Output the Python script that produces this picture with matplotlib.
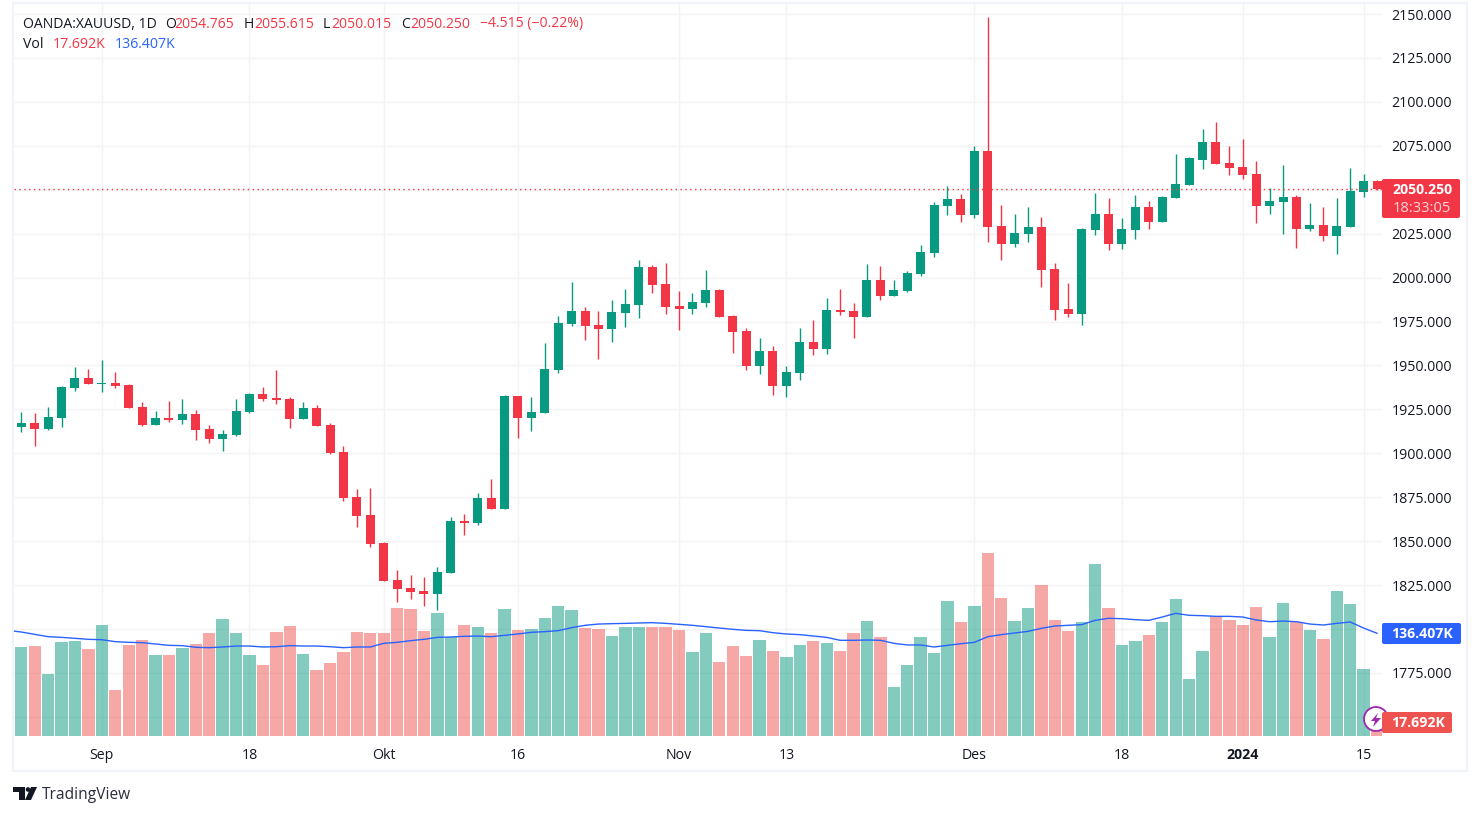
import matplotlib
matplotlib.use("Agg")
import matplotlib.pyplot as plt
from matplotlib.patches import Circle, FancyBboxPatch, Polygon, Rectangle

plt.rcParams["font.family"] = ["Open Sans", "DejaVu Sans"]

# daily XAUUSD candles
opens = [
    1915.0, 1917.2, 1913.8, 1920.1, 1937.1, 1942.8, 1939.4, 1940.0, 1938.8, 1926.3,
    1916.1, 1920.1, 1918.9, 1922.3, 1913.8, 1908.1, 1910.4, 1923.5, 1933.7, 1931.4,
    1930.9, 1919.5, 1925.8, 1916.1, 1900.8, 1875.2, 1865.0, 1849.1, 1828.0, 1823.5,
    1821.8, 1820.1, 1832.0, 1861.5, 1860.4, 1874.6, 1868.4, 1932.6, 1920.1, 1922.9,
    1947.3, 1973.5, 1980.9, 1972.9, 1970.6, 1979.7, 1984.3, 2005.9, 1996.2, 1983.7,
    1982.0, 1985.4, 1992.8, 1978.0, 1969.5, 1949.6, 1958.1, 1938.3, 1945.6, 1963.3,
    1959.3, 1981.4, 1980.9, 1977.5, 1998.5, 1989.4, 1992.2, 2001.9, 2013.8, 2040.5,
    2044.5, 2035.4, 2071.8, 2029.2, 2018.9, 2024.6, 2028.6, 2004.7, 1982.0, 1979.2,
    2026.9, 2036.0, 2018.9, 2026.9, 2040.0, 2031.4, 2045.1, 2052.5, 2067.2, 2076.9,
    2065.0, 2062.7, 2058.7, 2040.5, 2042.8, 2045.6, 2027.5, 2029.7, 2023.5, 2028.6,
    2048.5, 2054.765,
]
highs = [
    1923.5, 1922.9, 1926.3, 1938.3, 1949.1, 1947.9, 1953.0, 1946.2, 1939.4, 1929.2,
    1924.1, 1929.7, 1930.9, 1924.6, 1916.1, 1913.3, 1930.9, 1934.3, 1937.7, 1947.3,
    1932.0, 1929.2, 1927.5, 1917.2, 1904.2, 1879.7, 1880.2, 1849.6, 1833.7, 1830.9,
    1829.7, 1835.4, 1863.8, 1865.5, 1877.5, 1885.4, 1933.1, 1932.6, 1932.0, 1962.7,
    1978.0, 1997.3, 1983.1, 1980.9, 1987.1, 1993.4, 2009.8, 2007.0, 2008.1, 1992.2,
    1991.1, 2004.2, 1993.4, 1978.6, 1971.2, 1965.5, 1961.0, 1949.6, 1971.2, 1975.8,
    1988.3, 1993.4, 1985.4, 2007.6, 2006.4, 1998.5, 2003.6, 2018.4, 2042.8, 2051.9,
    2047.3, 2074.6, 2148.5, 2041.1, 2036.0, 2040.0, 2034.3, 2008.1, 1996.8, 2028.0,
    2047.9, 2045.1, 2033.7, 2046.8, 2043.4, 2046.2, 2070.6, 2068.9, 2084.3, 2088.3,
    2074.6, 2078.6, 2066.1, 2050.8, 2063.8, 2046.8, 2042.2, 2040.0, 2045.1, 2062.1,
    2058.7, 2055.615,
]
lows = [
    1912.3, 1904.2, 1913.3, 1915.0, 1935.4, 1939.4, 1934.8, 1937.1, 1925.8, 1915.5,
    1916.1, 1917.8, 1916.7, 1907.6, 1905.9, 1901.3, 1909.8, 1922.9, 1929.7, 1928.0,
    1914.4, 1919.5, 1915.5, 1899.6, 1872.9, 1858.1, 1846.8, 1827.5, 1815.5, 1817.2,
    1813.3, 1811.0, 1832.0, 1853.6, 1859.3, 1868.4, 1868.4, 1908.7, 1912.7, 1922.9,
    1945.6, 1972.3, 1964.4, 1953.6, 1963.3, 1971.8, 1976.9, 1991.1, 1979.2, 1970.1,
    1979.2, 1983.1, 1977.5, 1957.0, 1947.3, 1945.1, 1933.1, 1932.0, 1941.7, 1955.9,
    1956.4, 1978.6, 1965.5, 1977.5, 1987.1, 1989.4, 1991.7, 2000.8, 2011.6, 2035.4,
    2031.4, 2033.7, 2020.1, 2009.8, 2017.2, 2020.1, 1994.5, 1975.8, 1977.5, 1972.9,
    2024.1, 2015.5, 2016.1, 2021.8, 2027.5, 2031.4, 2045.1, 2052.5, 2061.6, 2064.4,
    2058.1, 2055.9, 2030.9, 2036.0, 2024.6, 2016.7, 2026.3, 2020.6, 2013.3, 2028.6,
    2045.6, 2050.015,
]
closes = [
    1917.2, 1913.8, 1920.6, 1937.7, 1942.8, 1939.4, 1940.0, 1938.3, 1925.8, 1916.1,
    1920.1, 1918.9, 1922.3, 1913.3, 1908.1, 1911.0, 1924.1, 1933.7, 1930.9, 1930.3,
    1919.5, 1925.8, 1915.5, 1900.2, 1874.6, 1864.4, 1848.5, 1827.5, 1822.9, 1821.2,
    1820.1, 1832.6, 1861.5, 1860.4, 1874.6, 1868.4, 1932.6, 1920.1, 1923.5, 1947.9,
    1974.1, 1980.9, 1972.3, 1970.6, 1980.3, 1984.8, 2005.9, 1995.6, 1983.1, 1982.0,
    1986.0, 1992.8, 1977.5, 1968.9, 1949.6, 1958.1, 1938.3, 1946.2, 1963.3, 1959.3,
    1981.4, 1980.3, 1977.5, 1998.5, 1989.4, 1992.8, 2002.5, 2014.4, 2041.1, 2044.5,
    2035.4, 2071.8, 2028.6, 2018.9, 2025.2, 2028.6, 2004.2, 1981.4, 1979.2, 2027.5,
    2036.0, 2018.9, 2027.5, 2040.0, 2031.4, 2045.6, 2053.0, 2067.8, 2076.9, 2064.4,
    2062.1, 2058.1, 2040.5, 2043.4, 2045.6, 2027.5, 2029.7, 2023.5, 2029.2, 2049.1,
    2054.7, 2050.25,
]

# volume in thousands
volumes = [
    118.2, 119.5, 82.3, 124.8, 126.2, 115.5, 147.4, 61.1, 120.9, 127.5,
    107.6, 107.6, 116.9, 122.2, 136.8, 155.4, 136.8, 107.6, 94.3, 138.1,
    146.1, 108.9, 87.7, 97.0, 111.6, 138.1, 136.8, 136.8, 170.0, 168.7,
    139.5, 163.4, 131.5, 147.4, 144.8, 136.8, 168.7, 140.8, 142.1, 156.7,
    172.7, 167.3, 143.4, 142.1, 132.8, 144.8, 144.8, 144.8, 144.8, 140.8,
    111.6, 136.8, 98.3, 119.5, 106.2, 127.5, 112.9, 104.9, 120.9, 126.2,
    123.5, 112.9, 136.8, 152.7, 131.5, 65.1, 94.3, 131.5, 110.2, 179.3,
    151.4, 172.7, 243.0, 183.3, 152.7, 170.0, 200.5, 154.1, 139.5, 151.4,
    228.4, 170.0, 120.9, 126.2, 134.1, 151.4, 182.0, 75.7, 112.9, 159.4,
    154.1, 147.4, 171.3, 131.5, 176.6, 151.4, 140.8, 128.8, 192.6, 175.3,
    89.0, 17.692,
]

# volume moving average, starts one bar left of the first candle
vol_ma = [
    140.3, 138.1, 135.0, 131.9, 131.0, 129.7, 128.4, 127.9, 125.3, 124.4,
    124.0, 122.2, 120.4, 120.0, 117.8, 117.3, 118.2, 119.5, 119.5, 118.2,
    118.6, 120.0, 119.5, 119.5, 118.6, 117.3, 118.2, 118.2, 123.1, 124.4,
    126.6, 128.4, 131.0, 131.5, 132.4, 132.8, 131.9, 133.7, 135.5, 137.7,
    138.6, 139.9, 143.9, 147.0, 148.7, 149.2, 149.6, 150.1, 150.5, 149.6,
    148.3, 147.0, 145.2, 143.4, 141.7, 140.3, 139.9, 137.2, 135.5, 134.6,
    132.8, 131.0, 127.1, 127.1, 127.5, 127.1, 123.1, 120.9, 120.9, 118.2,
    120.4, 122.6, 124.4, 131.9, 134.6, 136.8, 139.0, 143.0, 146.1, 147.0,
    147.9, 153.6, 156.3, 155.8, 154.5, 153.6, 158.0, 162.9, 160.3, 159.8,
    158.9, 158.9, 158.0, 154.1, 151.8, 152.7, 151.8, 148.7, 147.4, 149.6,
    151.4, 143.4, 136.407,
]

price_ticks = [1750, 1775, 1800, 1825, 1850, 1875, 1900, 1925, 1950, 1975, 2000,
               2025, 2050, 2075, 2100, 2125, 2150]
# these two sit under the value tags, so only their grid lines show
hidden_prices = [1800, 2050]
date_ticks = [6, 17, 27, 37, 49, 57, 71, 82, 91, 100]
date_labels = ["Sep", "18", "Okt", "16", "Nov", "13", "Des", "18", "2024", "15"]

GREEN = "#089981"
RED = "#f23645"
VOL_RED = "#ef5350"
BLUE = "#2962ff"
FRAME = "#f0f3fa"
GRID = "#f3f3f3"
DARK = "#131722"
FS = 10.2

W, H = 1480, 815
fig = plt.figure(figsize=(W / 100, H / 100), dpi=100, facecolor="white")
pane = [14 / W, 1 - 736 / H, 1368 / W, 732 / H]
xlim = (-0.544, 101.37)
ylim = (1739.1, 2155.7)

ax_grid = fig.add_axes(pane, zorder=0)
ax_vol = fig.add_axes(pane, zorder=1)
ax = fig.add_axes(pane, zorder=2)
over = fig.add_axes([0, 0, 1, 1], zorder=3)

# grid and the two axes live on the bottom layer
ax_grid.set_xlim(xlim)
ax_grid.set_ylim(ylim)
ax_grid.yaxis.tick_right()
ax_grid.set_yticks(price_ticks)
ax_grid.set_yticklabels(["" if p in hidden_prices else f"{p:.3f}" for p in price_ticks],
                        fontsize=FS, color=DARK)
ax_grid.set_xticks(date_ticks)
ax_grid.set_xticklabels(date_labels, fontsize=FS, color=DARK)
ax_grid.get_xticklabels()[8].set_fontweight("bold")
ax_grid.tick_params(length=0)
ax_grid.tick_params(axis="y", pad=7.0)
ax_grid.tick_params(axis="x", pad=8.5)
ax_grid.grid(True, color=GRID, linewidth=1)
ax_grid.set_axisbelow(True)
for s in ax_grid.spines.values():
    s.set_visible(False)

days = list(range(len(closes)))
up = [c >= o for o, c in zip(opens, closes)]

ax_vol.patch.set_visible(False)
ax_vol.axis("off")
ax_vol.set_xlim(xlim)
ax_vol.set_ylim(0, 972.2)
ax_vol.bar(days, volumes, width=0.92, linewidth=0, alpha=0.5,
           color=[GREEN if u else VOL_RED for u in up])

ax.patch.set_visible(False)
ax.axis("off")
ax.set_xlim(xlim)
ax.set_ylim(ylim)
colors = [GREEN if u else RED for u in up]
ax.vlines(days, lows, highs, colors=colors, linewidth=1.0)
ax.bar(days, [abs(c - o) for o, c in zip(opens, closes)],
       bottom=[min(o, c) for o, c in zip(opens, closes)],
       width=0.67, color=colors, linewidth=0)
ax.axhline(closes[-1], color=RED, linewidth=1, linestyle=(0, (1, 2.5)))

ax_ma = ax.twinx()
ax_ma.axis("off")
ax_ma.set_ylim(0, 972.2)
ax_ma.plot(range(-1, len(vol_ma) - 1), vol_ma, color=BLUE, linewidth=1.0)

# frame, tags and header in pixel coordinates
over.set_xlim(0, W)
over.set_ylim(H, 0)
over.axis("off")
over.patch.set_visible(False)
over.add_patch(Rectangle((13, 3), 1454, 768, fill=False, edgecolor=FRAME, linewidth=1.5))


def tag(x0, y0, x1, y1, color):
    over.add_patch(FancyBboxPatch((x0, y0), x1 - x0, y1 - y0, boxstyle="round,pad=0,rounding_size=2",
                                  facecolor=color, edgecolor="none"))


# bolt badge sits behind the volume tag
over.add_patch(Circle((1376, 719), 12, facecolor="white", edgecolor="#9c27b0", linewidth=1.3))
over.add_patch(Polygon([(1378, 713), (1371, 721), (1375, 721), (1373, 727), (1381, 718), (1376, 718)],
                       facecolor="#9c27b0", edgecolor="none"))

tag(1382, 179, 1460, 218, RED)
over.text(1422, 190, "2050.250", color="white", fontsize=FS, fontweight="bold", ha="center", va="center")
over.text(1421.5, 208, "18:33:05", color="#fcd7da", fontsize=FS + 0.3, ha="center", va="center")
tag(1382, 623, 1461, 644, BLUE)
over.text(1422, 634, "136.407K", color="white", fontsize=FS, fontweight="bold", ha="center", va="center")
tag(1382, 712, 1452, 733, VOL_RED)
over.text(1418, 723, "17.692K", color="white", fontsize=FS, fontweight="bold", ha="center", va="center")

header = [
    (23, "OANDA:XAUUSD, 1D", DARK), (165, "O", DARK), (174, "2054.765", RED),
    (244, "H", DARK), (254, "2055.615", RED), (323, "L", DARK), (331, "2050.015", RED),
    (401, "C", DARK), (410, "2050.250", RED), (480, "\u22124.515 (\u22120.22%)", RED),
]
for x, s, c in header:
    over.text(x, 24, s, color=c, fontsize=FS - 0.1, ha="left", va="center")
over.text(23, 45, "Vol", color=DARK, fontsize=FS, ha="left", va="center")
over.text(53, 45, "17.692K", color=RED, fontsize=FS, ha="left", va="center")
over.text(115, 45, "136.407K", color=BLUE, fontsize=FS, ha="left", va="center")

# TradingView mark
over.add_patch(Polygon([(13, 787), (25, 787), (25, 800), (19, 800), (19, 792), (13, 792)], facecolor=DARK, edgecolor="none"))
over.add_patch(Circle((28, 789.5), 2.3, facecolor=DARK, edgecolor="none"))
over.add_patch(Polygon([(31, 787), (37, 787), (31, 800), (25, 800)], facecolor=DARK, edgecolor="none"))
over.text(42, 795, "TradingView", color="#2a2e39", fontsize=FS + 1.0, ha="left", va="center")

fig.savefig("out.png", dpi=100)
